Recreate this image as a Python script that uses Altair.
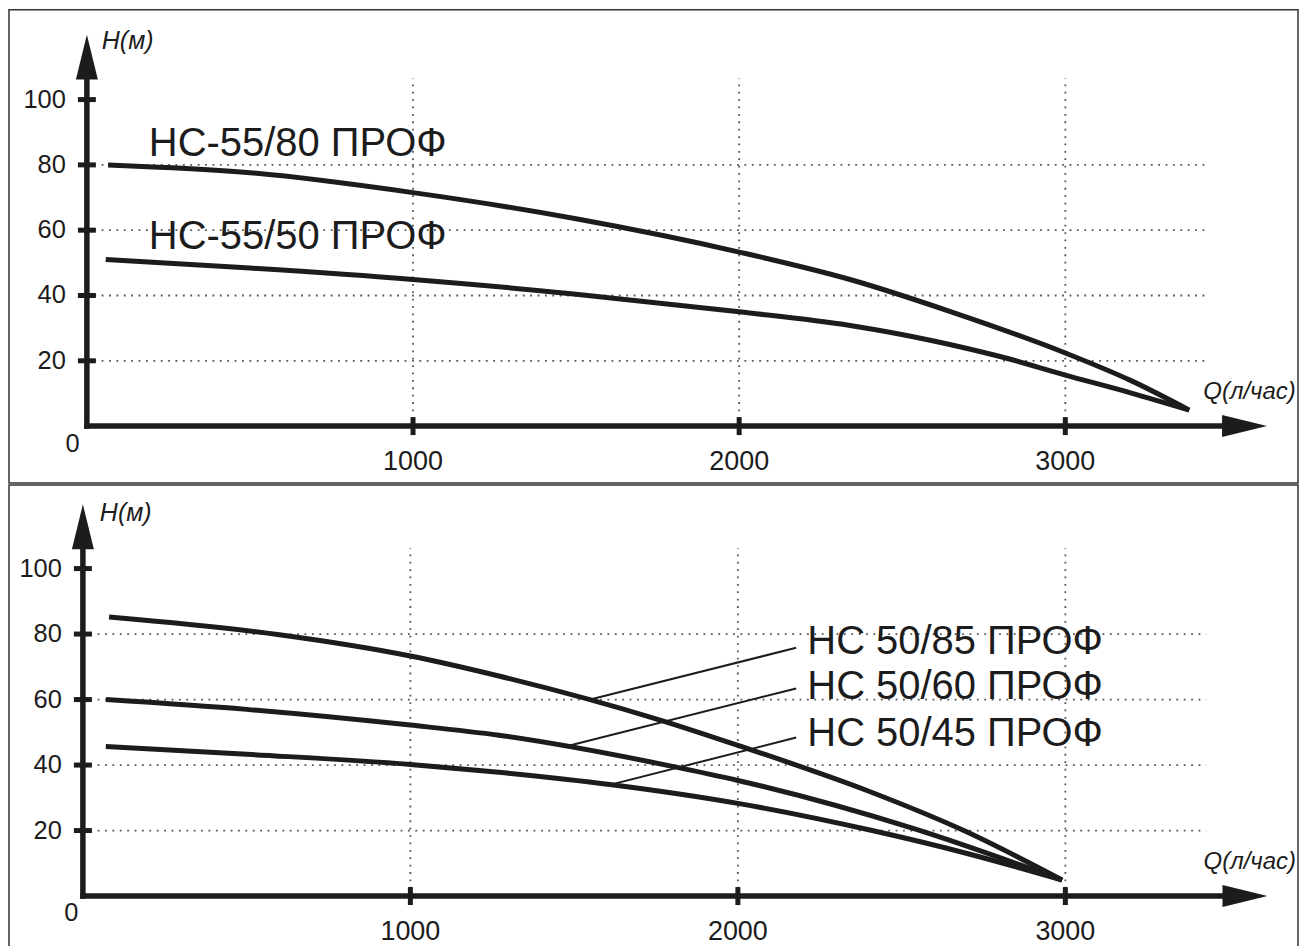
import altair as alt
import pandas as pd

# ---------------- values ----------------
# top panel curves: Q (л/час) and H (м)
q_55_80 = [65, 500, 1000, 1500, 2000, 2340, 2650, 3000, 3200, 3380]
h_55_80 = [80.0, 77.6, 71.5, 63.5, 53.3, 44.9, 35.0, 22.4, 14.0, 4.9]
q_55_50 = [58, 500, 1000, 1500, 2000, 2340, 2600, 2800, 3000, 3200, 3380]
h_55_50 = [51.0, 48.4, 44.9, 40.4, 35.0, 30.8, 26.0, 21.3, 15.6, 10.2, 4.9]

# bottom panel curves
q_50_85 = [80, 600, 1000, 1270, 1770, 2000, 2400, 2690, 2990]
h_50_85 = [85.2, 79.8, 73.3, 67.2, 53.5, 46.0, 32.0, 20.0, 4.9]
q_50_60 = [70, 500, 1000, 1270, 1800, 2000, 2540, 2990]
h_50_60 = [60.0, 57.0, 52.2, 49.1, 39.6, 35.3, 20.5, 4.9]
q_50_45 = [70, 500, 1000, 1270, 1615, 2000, 2410, 2700, 2990]
h_50_45 = [45.7, 43.3, 40.2, 37.8, 34.0, 28.3, 20.0, 13.0, 4.9]

top_names = ["НС-55/80 ПРОФ", "НС-55/50 ПРОФ"]
top_label_q = [190, 190]
top_label_h = [86.5, 58.0]

bottom_names = ["НС 50/85 ПРОФ", "НС 50/60 ПРОФ", "НС 50/45 ПРОФ"]
bottom_label_q = [2212, 2212, 2212]
bottom_label_h = [77.7, 63.8, 49.6]
leader_q1 = [1552, 1483, 1615]
leader_h1 = [60.1, 45.9, 34.1]
leader_q2 = [2178, 2178, 2178]
leader_h2 = [75.8, 63.4, 48.4]

y_ticks = [20, 40, 60, 80, 100]
x_ticks = [1000, 2000, 3000]
y_grid = [20, 40, 60, 80]
x_grid = [1000, 2000, 3000]
origin_label = ["0"]
y_title = ["H(м)"]
x_title = ["Q(л/час)"]

# ---------------- styling / layout ----------------
FONT = "Liberation Sans"
INK = "#1c1c1c"
GRID = "#555555"
UP_ARROW = "M -0.489 1 L 0.489 1 L 0 -1 Z"
RIGHT_ARROW = "M -1 -0.489 L -1 0.489 L 1 0 Z"

top_layout = dict(w=1291, h=474, x0=78, kx=0.32665, y0=417, ky=3.27,
                  grid_x_end=3432, grid_y_end=106.5, x_line_end=3490, y_line_end=107.5,
                  up_arrow_h=113.0, right_arrow_q=3549.5,
                  zero_q=-43.8, zero_h=-5.35,
                  yt_dx=15, yt_h=117.8, xt_q=3423, xt_h=10.3, xlab_dy=43.5, label_size=40)
bottom_layout = dict(w=1291, h=465, x0=74, kx=0.328, y0=411.7, ky=3.28,
                     grid_x_end=3430, grid_y_end=106.3, x_line_end=3490, y_line_end=107.5,
                     up_arrow_h=112.75, right_arrow_q=3548.5,
                     zero_q=-35.0, zero_h=-5.1,
                     yt_dx=17, yt_h=117.0, xt_q=3422, xt_h=10.3, xlab_dy=44.0, label_size=40)


def curves_frame(names, qs, hs):
    rows = []
    for n, qq, hh in zip(names, qs, hs):
        for a, b in zip(qq, hh):
            rows.append({"name": n, "q": a, "h": b})
    return pd.DataFrame(rows)


def build_panel(p, curves, labels, leaders=None):
    xs = alt.Scale(domain=[-p["x0"] / p["kx"], (p["w"] - p["x0"]) / p["kx"]], nice=False, zero=False)
    ys = alt.Scale(domain=[-(p["h"] - p["y0"]) / p["ky"], p["y0"] / p["ky"]], nice=False, zero=False)
    one = pd.DataFrame({"k": [0]})

    def X(*a, **k):
        return alt.X(*a, scale=xs, axis=None, **k)

    def Y(*a, **k):
        return alt.Y(*a, scale=ys, axis=None, **k)

    grid_h = alt.Chart(pd.DataFrame({"v": y_grid})).mark_rule(
        color=GRID, strokeWidth=1.8, strokeDash=[1.8, 5.6]).encode(
        y=Y("v:Q"), x=X(datum=0), x2=alt.X2(datum=p["grid_x_end"]))
    grid_v = alt.Chart(pd.DataFrame({"v": x_grid})).mark_rule(
        color=GRID, strokeWidth=1.8, strokeDash=[1.8, 5.6]).encode(
        x=X("v:Q"), y=Y(datum=0), y2=alt.Y2(datum=p["grid_y_end"]))

    lines = alt.Chart(curves).mark_line(
        interpolate="monotone", strokeWidth=5, color=INK).encode(
        x=X("q:Q"), y=Y("h:Q"), detail="name:N")

    x_line = alt.Chart(one).mark_rule(color=INK, strokeWidth=5.5, strokeCap="square").encode(
        x=X(datum=0), x2=alt.X2(datum=p["x_line_end"]), y=Y(datum=0))
    y_line = alt.Chart(one).mark_rule(color=INK, strokeWidth=5.5, strokeCap="square").encode(
        x=X(datum=0), y=Y(datum=0), y2=alt.Y2(datum=p["y_line_end"]))

    y_tick_marks = alt.Chart(pd.DataFrame({"v": y_ticks})).mark_tick(
        orient="horizontal", size=18, thickness=5, color=INK, opacity=1).encode(
        x=X(datum=0), y=Y("v:Q"))
    x_tick_marks = alt.Chart(pd.DataFrame({"v": x_ticks})).mark_tick(
        orient="vertical", size=18, thickness=5, color=INK, opacity=1).encode(
        x=X("v:Q"), y=Y(datum=0))

    y_tick_labels = alt.Chart(pd.DataFrame({"v": y_ticks})).mark_text(
        font=FONT, fontSize=25.5, color=INK, align="right", baseline="middle", dx=-21).encode(
        x=X(datum=0), y=Y("v:Q"), text=alt.Text("v:Q", format="d"))
    x_tick_labels = alt.Chart(pd.DataFrame({"v": x_ticks})).mark_text(
        font=FONT, fontSize=27, color=INK, align="center", baseline="alphabetic",
        dy=p["xlab_dy"]).encode(
        x=X("v:Q"), y=Y(datum=0), text=alt.Text("v:Q", format="d"))

    up = alt.Chart(one).mark_point(shape=UP_ARROW, size=2025, filled=True, color=INK,
                                   opacity=1, strokeWidth=0).encode(
        x=X(datum=0), y=Y(datum=p["up_arrow_h"]))
    right = alt.Chart(one).mark_point(shape=RIGHT_ARROW, size=2025, filled=True, color=INK,
                                      opacity=1, strokeWidth=0).encode(
        x=X(datum=p["right_arrow_q"]), y=Y(datum=0))

    zero = alt.Chart(pd.DataFrame({"t": origin_label})).mark_text(
        font=FONT, fontSize=25.5, color=INK, align="center", baseline="middle").encode(
        x=X(datum=p["zero_q"]), y=Y(datum=p["zero_h"]), text="t:N")

    h_title = alt.Chart(pd.DataFrame({"t": y_title})).mark_text(
        font=FONT, fontSize=25, fontStyle="italic", color=INK, align="left", baseline="middle",
        dx=p["yt_dx"]).encode(
        x=X(datum=0), y=Y(datum=p["yt_h"]), text="t:N")
    q_title = alt.Chart(pd.DataFrame({"t": x_title})).mark_text(
        font=FONT, fontSize=24, fontStyle="italic", color=INK, align="left", baseline="middle").encode(
        x=X(datum=p["xt_q"]), y=Y(datum=p["xt_h"]), text="t:N")

    names = alt.Chart(labels).mark_text(
        font=FONT, fontSize=p["label_size"], color=INK, align="left", baseline="middle").encode(
        x=X("q:Q"), y=Y("h:Q"), text="name:N")

    layers = [grid_h, grid_v, lines]
    if leaders is not None:
        layers.append(alt.Chart(leaders).mark_rule(color=INK, strokeWidth=2).encode(
            x=X("q1:Q"), y=Y("h1:Q"), x2="q2:Q", y2="h2:Q"))
    layers += [x_line, y_line, y_tick_marks, x_tick_marks, up, right,
               y_tick_labels, x_tick_labels, zero, h_title, q_title, names]
    return alt.layer(*layers).properties(width=p["w"], height=p["h"])


top_curves = curves_frame(top_names, [q_55_80, q_55_50], [h_55_80, h_55_50])
bottom_curves = curves_frame(bottom_names, [q_50_85, q_50_60, q_50_45], [h_50_85, h_50_60, h_50_45])
top_labels = pd.DataFrame({"name": top_names, "q": top_label_q, "h": top_label_h})
bottom_labels = pd.DataFrame({"name": bottom_names, "q": bottom_label_q, "h": bottom_label_h})
leaders = pd.DataFrame({"q1": leader_q1, "h1": leader_h1, "q2": leader_q2, "h2": leader_h2})

top = build_panel(top_layout, top_curves, top_labels)
bottom = build_panel(bottom_layout, bottom_curves, bottom_labels, leaders)

chart = alt.vconcat(top, bottom, spacing=0).properties(
    padding=0, background="white").configure_view(stroke="#333333", strokeWidth=1.5)

chart.save("out.html", embed_options={"renderer": "svg", "actions": False})
